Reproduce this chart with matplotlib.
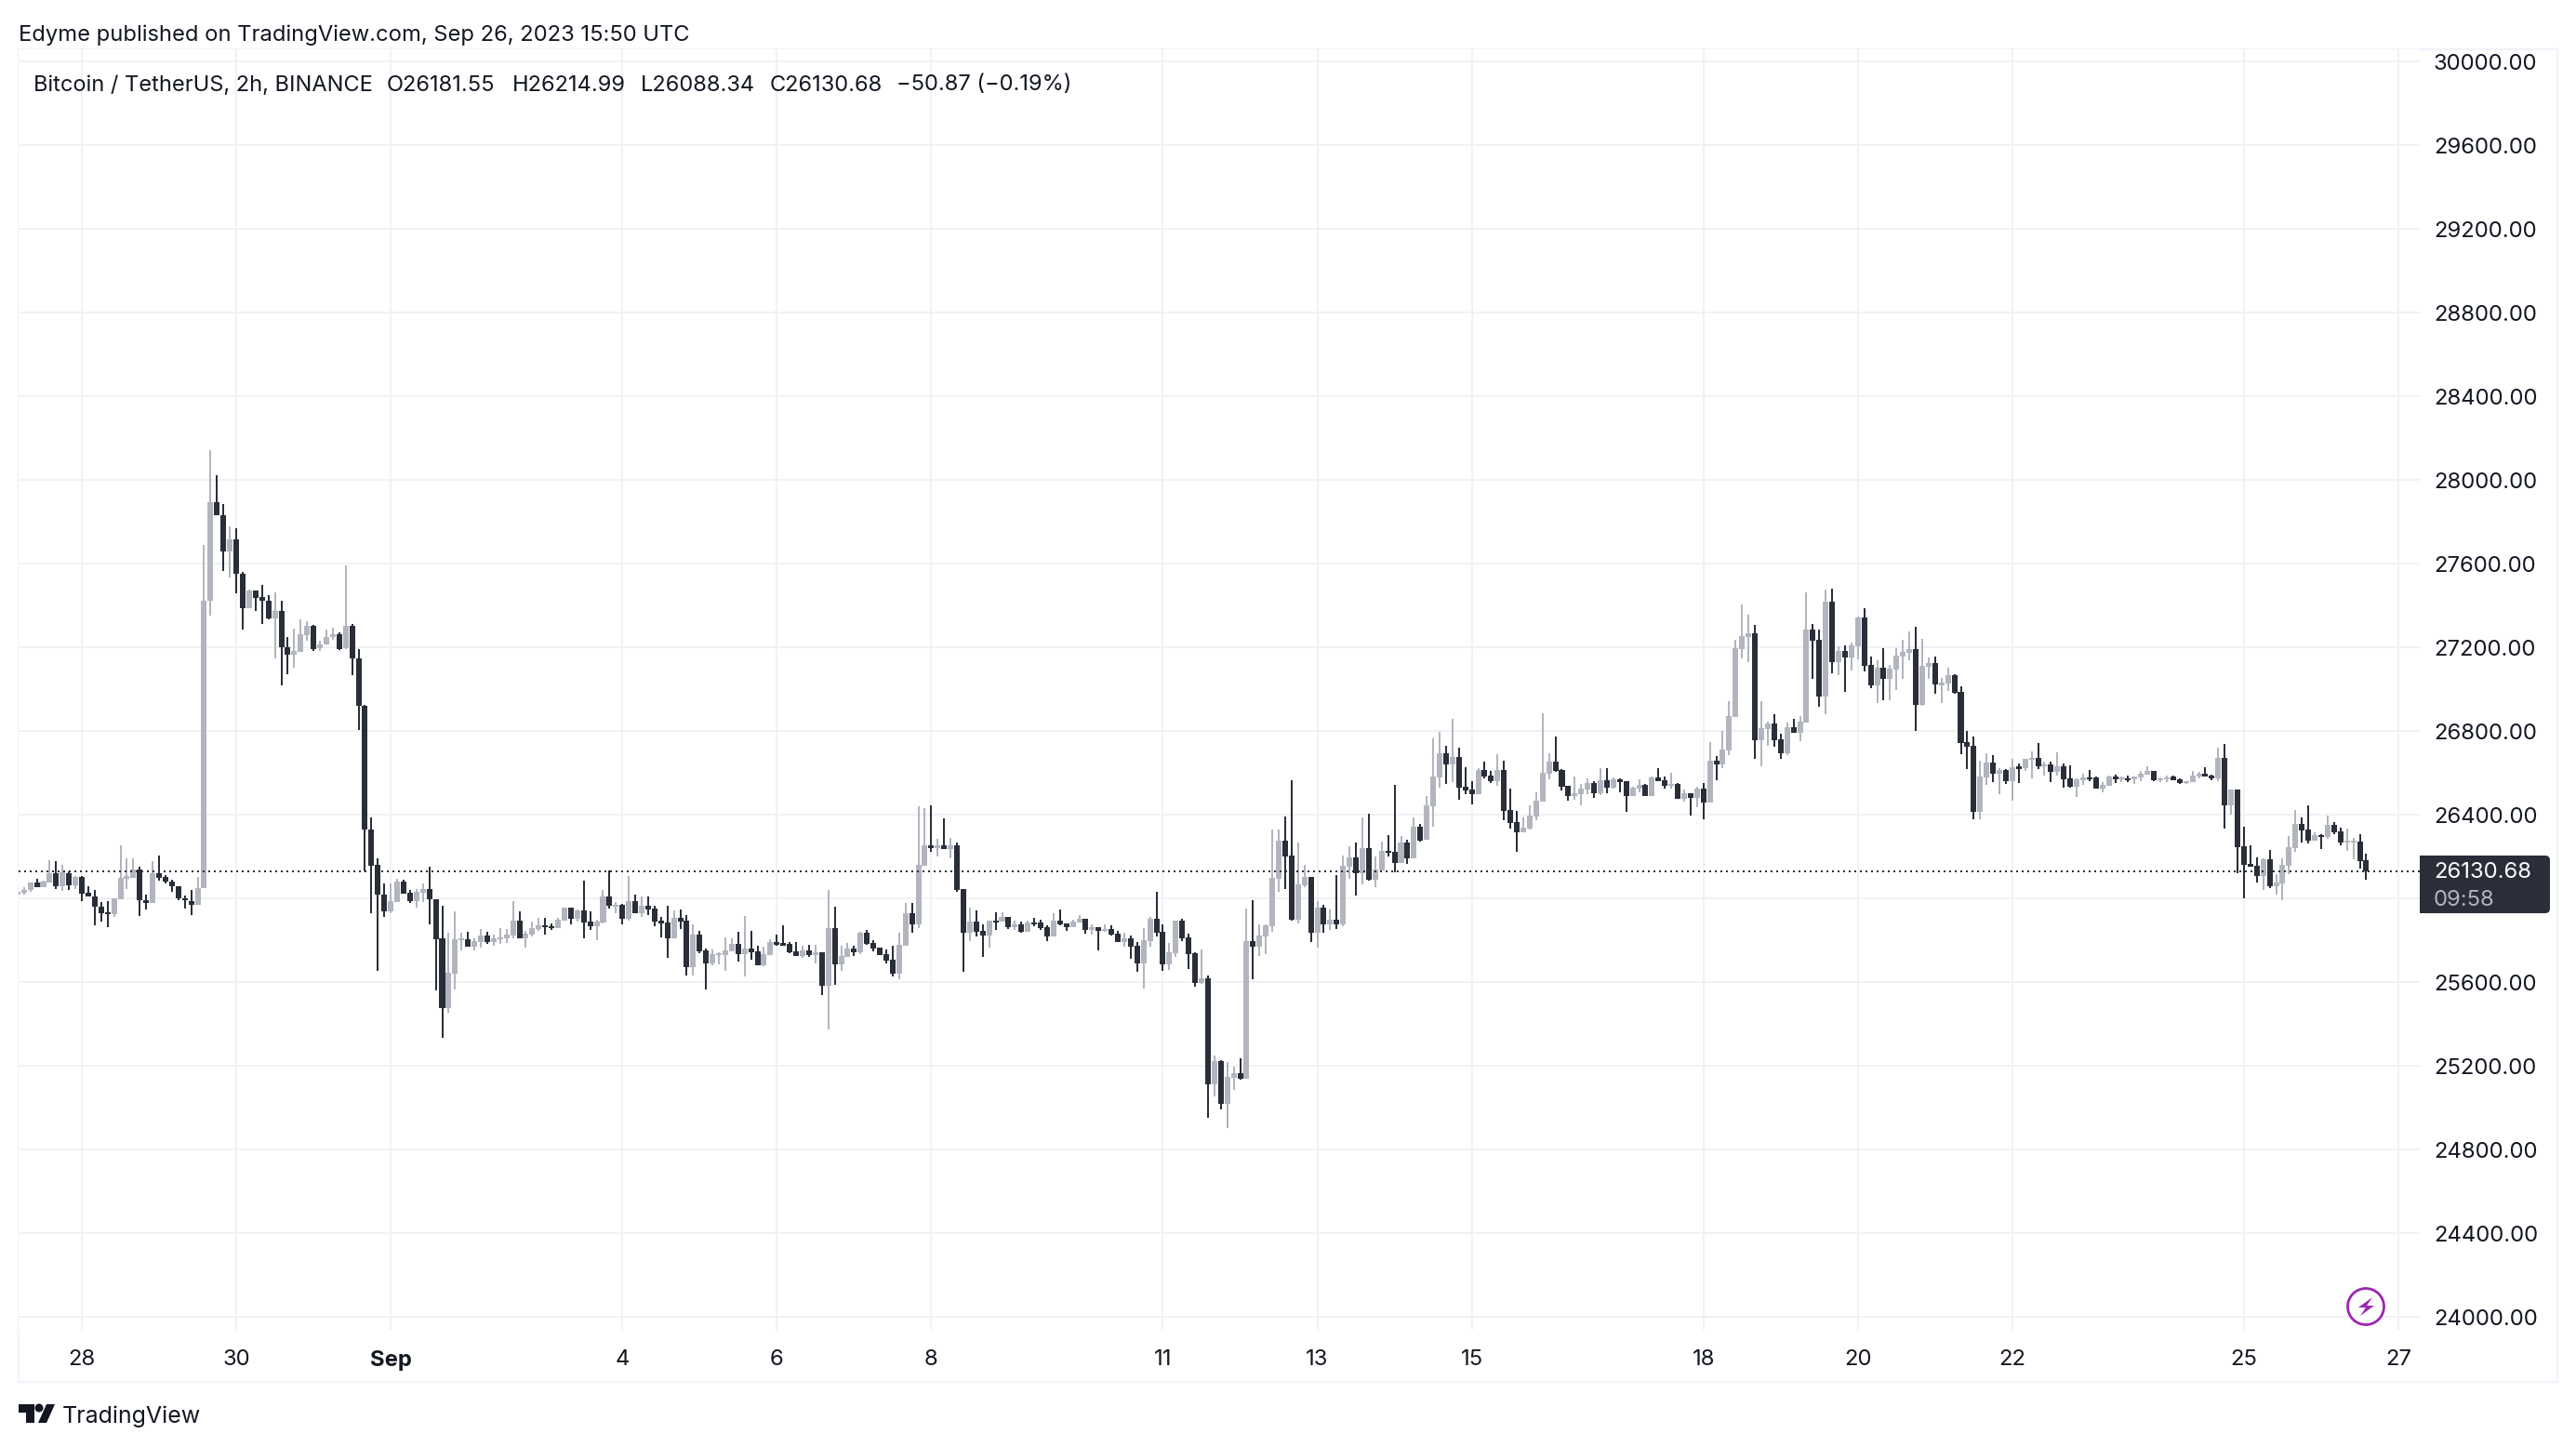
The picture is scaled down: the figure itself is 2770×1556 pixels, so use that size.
import numpy as np
import matplotlib
matplotlib.use("Agg")
import matplotlib.pyplot as plt
from matplotlib.patches import Circle, Polygon, Rectangle, FancyBboxPatch

plt.rcParams['font.family'] = ['Inter', 'DejaVu Sans']

first_bar = -10  # bars counted from Aug 28 00:00, 2h each

opens = [
26020,26025,26038,26075,26055,26075,26118,26056,26122,26062,
26102,26025,26011,25962,25931,25925,25995,26098,26096,26140,
25993,25978,26118,26104,26082,26060,26002,25987,25969,26049,
27424,27895,27829,27660,27716,27553,27387,27469,27438,27424,
27336,27375,27202,27164,27178,27256,27302,27195,27215,27249,
27262,27195,27304,27147,26922,26329,26158,26020,25936,25984,
26078,26025,25985,26027,26045,25996,25807,25476,25641,25802,
25804,25769,25791,25822,25791,25804,25809,25822,25893,25809,
25827,25853,25871,25868,25858,25893,25956,25902,25942,25889,
25867,25884,26009,25965,25969,25902,25987,25929,25964,25951,
25893,25884,25809,25907,25893,25671,25827,25751,25689,25733,
25729,25747,25782,25733,25760,25747,25680,25729,25791,25782,
25782,25747,25724,25751,25729,25742,25582,25858,25684,25720,
25760,25742,25836,25787,25764,25733,25707,25640,25773,25929,
25876,26156,26253,26240,26253,26236,26253,26044,25836,25889,
25844,25822,25893,25889,25911,25862,25876,25840,25884,25884,
25862,25818,25893,25880,25862,25884,25902,25849,25862,25844,
25853,25831,25791,25809,25773,25689,25796,25902,25840,25684,
25738,25893,25813,25738,25596,25616,25110,25221,25016,25141,
25163,25136,25794,25767,25818,25867,26093,26276,26204,25898,
26062,26102,25836,25956,25876,25898,25876,26151,26196,26120,
26240,26089,26133,26227,26222,26169,26267,26191,26342,26280,
26440,26578,26693,26640,26676,26533,26520,26498,26613,26587,
26560,26613,26422,26364,26316,26333,26391,26462,26596,26653,
26613,26538,26489,26498,26520,26551,26502,26564,26529,26569,
26560,26489,26524,26542,26489,26578,26564,26538,26547,26476,
26502,26480,26524,26458,26658,26640,26707,26867,27191,27249,
27267,26756,26809,26836,26760,26693,26818,26791,26840,27284,
27236,26964,27418,27129,27182,27151,27204,27342,27116,27018,
27102,27049,27093,27156,27173,27191,26924,27107,27124,27022,
27027,27067,26987,26747,26729,26413,26578,26649,26596,26613,
26560,26627,26622,26662,26671,26633,26640,26604,26631,26573,
26533,26564,26578,26578,26524,26538,26582,26571,26573,26569,
26578,26591,26609,26564,26569,26582,26569,26551,26556,26582,
26596,26587,26573,26671,26444,26520,26249,26164,26156,26107,
26187,26058,26071,26156,26240,26356,26329,26276,26302,26293,
26351,26320,26268,26269,26271,26181.55]

closes = [
26030,26040,26075,26055,26080,26118,26056,26125,26062,26102,
26024,26011,25960,25929,25925,25998,26098,26102,26140,25991,
25978,26118,26098,26080,26058,25998,25989,25969,26051,27424,
27895,27829,27660,27716,27553,27387,27471,27435,27424,27336,
27375,27200,27164,27182,27262,27302,27193,27215,27251,27262,
27193,27304,27147,26920,26327,26156,26018,25936,25985,26078,
26024,25985,26029,26045,25996,25805,25476,25644,25804,25806,
25769,25796,25822,25791,25809,25813,25827,25893,25809,25831,
25858,25871,25864,25858,25898,25956,25902,25942,25884,25867,
25889,26009,25964,25968,25902,25987,25929,25964,25947,25889,
25880,25809,25907,25889,25671,25827,25745,25689,25733,25736,
25751,25782,25733,25760,25742,25680,25733,25791,25778,25778,
25742,25724,25751,25729,25742,25582,25858,25684,25724,25760,
25742,25836,25782,25760,25729,25702,25640,25778,25929,25876,
26160,26253,26240,26253,26236,26252,26039,25836,25889,25840,
25822,25893,25889,25911,25862,25876,25840,25884,25879,25858,
25818,25893,25876,25862,25889,25902,25849,25862,25844,25853,
25827,25791,25809,25769,25689,25800,25902,25836,25684,25742,
25893,25809,25733,25596,25618,25110,25221,25016,25145,25163,
25136,25794,25767,25821,25871,26098,26276,26200,25896,26067,
26102,25836,25956,25876,25898,25876,26156,26196,26120,26240,
26089,26138,26227,26219,26169,26267,26191,26342,26276,26444,
26582,26693,26640,26676,26529,26516,26498,26613,26582,26560,
26613,26418,26360,26316,26338,26396,26467,26600,26653,26609,
26533,26489,26502,26524,26551,26502,26564,26529,26569,26556,
26489,26529,26542,26489,26578,26560,26538,26547,26476,26502,
26480,26524,26458,26658,26640,26711,26871,27196,27253,27267,
26756,26813,26836,26756,26693,26818,26791,26844,27284,27231,
26964,27418,27129,27182,27151,27209,27342,27111,27018,27102,
27049,27098,27160,27178,27191,26924,27111,27124,27022,27027,
27067,26982,26742,26724,26413,26582,26649,26596,26613,26560,
26627,26622,26667,26671,26631,26640,26604,26631,26569,26533,
26569,26578,26573,26524,26542,26582,26569,26575,26569,26582,
26596,26609,26564,26573,26578,26564,26551,26558,26587,26596,
26582,26573,26671,26444,26520,26244,26160,26151,26107,26187,
26058,26076,26160,26244,26356,26324,26276,26302,26296,26351,
26316,26267,26271,26272,26178,26130.68]

highs = [
26035,26055,26075,26093,26085,26182,26176,26162,26131,26105,
26105,26056,26038,25984,25985,26002,26253,26189,26191,26153,
26020,26176,26204,26111,26089,26060,26013,26042,26102,27691,
28142,28022,27884,27780,27767,27562,27475,27469,27500,27447,
27464,27424,27251,27287,27335,27325,27306,27233,27285,27295,
27273,27591,27313,27193,26925,26385,26193,26069,26071,26095,
26089,26038,26045,26071,26153,25996,25964,25836,25938,25836,
25840,25809,25853,25840,25827,25858,25853,25987,25938,25844,
25889,25907,25907,25880,25907,25956,25956,25947,26084,25938,
25898,26040,26133,25982,25973,26107,26018,26009,26009,25964,
25911,25964,25942,25947,25920,25876,25844,25760,25756,25742,
25813,25809,25840,25916,25844,25773,25769,25804,25827,25871,
25791,25791,25773,25778,25778,25742,26040,25960,25773,25787,
25773,25840,25849,25800,25764,25756,25773,25836,25978,25978,
26440,26431,26444,26284,26382,26289,26267,26044,25956,25942,
25876,25893,25933,25933,25911,25893,25889,25893,25907,25898,
25871,25929,25947,25880,25898,25920,25902,25876,25862,25876,
25871,25844,25836,25822,25791,25858,25911,26031,25876,25787,
25893,25902,25831,25742,25756,25633,25247,25225,25216,25194,
25234,25950,25990,25874,25876,26329,26329,26391,26564,26267,
26160,26102,25987,25969,25947,26111,26204,26249,26267,26387,
26404,26200,26271,26302,26542,26298,26280,26387,26356,26489,
26764,26796,26729,26858,26720,26627,26560,26622,26653,26609,
26689,26658,26524,26418,26387,26444,26507,26884,26693,26773,
26618,26538,26582,26547,26573,26560,26622,26622,26578,26573,
26560,26533,26569,26547,26582,26622,26582,26600,26551,26520,
26502,26533,26551,26747,26680,26800,26942,27236,27404,27356,
27307,26942,26844,26880,26787,26840,26858,26871,27462,27311,
27284,27476,27480,27204,27209,27222,27347,27387,27156,27138,
27196,27116,27196,27236,27276,27298,27240,27151,27156,27053,
27102,27071,27013,26800,26773,26658,26693,26684,26622,26618,
26667,26644,26667,26702,26742,26653,26653,26698,26644,26636,
26573,26596,26613,26582,26556,26587,26591,26582,26587,26582,
26609,26631,26609,26578,26587,26587,26573,26560,26609,26604,
26627,26591,26720,26738,26520,26520,26342,26253,26196,26191,
26231,26116,26191,26298,26422,26387,26444,26316,26307,26396,
26364,26338,26333,26289,26307,26214.99]

lows = [
26015,26020,26030,26055,26055,26075,26045,26036,26040,26045,
25987,26010,25871,25889,25862,25911,25995,26045,26096,25916,
25947,25978,26085,26069,26031,25991,25951,25920,25969,26049,
27353,27829,27565,27535,27458,27285,27387,27373,27313,27333,
27147,27018,27071,27102,27178,27233,27182,27182,27215,27236,
27185,27193,27067,26803,26131,25929,25653,25911,25929,25984,
26024,25978,25955,25984,25876,25562,25335,25453,25564,25751,
25769,25751,25764,25782,25773,25782,25787,25809,25809,25764,
25818,25844,25827,25849,25858,25893,25876,25889,25809,25849,
25800,25880,25951,25929,25876,25893,25929,25911,25920,25867,
25813,25716,25809,25853,25631,25631,25738,25564,25680,25684,
25653,25747,25698,25627,25707,25680,25676,25729,25773,25778,
25738,25724,25716,25720,25689,25538,25373,25587,25653,25720,
25724,25733,25778,25747,25729,25689,25627,25613,25773,25836,
25858,26156,26222,26200,26236,26191,26033,25649,25796,25818,
25720,25764,25849,25889,25853,25849,25836,25840,25867,25849,
25796,25818,25871,25844,25862,25884,25831,25827,25751,25840,
25822,25791,25769,25711,25649,25569,25769,25818,25653,25658,
25720,25796,25662,25578,25591,24950,25052,24990,24901,25083,
25132,25136,25612,25723,25733,25840,26031,26044,25893,25880,
26053,25791,25764,25836,25849,25853,25867,26093,26013,26067,
26084,26053,26133,26200,26124,26169,26164,26191,26271,26280,
26342,26529,26547,26556,26471,26498,26449,26498,26573,26551,
26538,26373,26333,26222,26316,26329,26373,26462,26569,26604,
26516,26467,26471,26444,26498,26480,26493,26502,26524,26507,
26413,26489,26507,26489,26489,26560,26524,26524,26476,26462,
26396,26436,26378,26458,26564,26622,26684,26867,27147,27129,
26667,26631,26729,26724,26667,26684,26791,26751,26840,27049,
26916,26880,27076,27067,26987,27089,27142,27084,27004,26933,
26947,26947,26996,27049,27138,26800,26920,27049,26978,26933,
26991,26978,26689,26618,26378,26378,26542,26556,26498,26547,
26467,26551,26609,26573,26618,26587,26556,26587,26529,26529,
26484,26542,26560,26524,26507,26538,26551,26556,26556,26547,
26560,26591,26560,26556,26556,26564,26547,26547,26556,26573,
26582,26564,26560,26333,26400,26120,26000,26151,26076,26040,
26049,26018,25991,26116,26222,26267,26262,26276,26236,26284,
26307,26253,26227,26187,26142,26088.34]

date_bars = [0, 24, 48, 84, 108, 132, 168, 192, 216, 252, 276, 300, 336, 360]
date_labels = ['28', '30', 'Sep', '4', '6', '8', '11', '13', '15', '18', '20', '22', '25', '27']
price_ticks = [24000, 24400, 24800, 25200, 25600, 26000, 26400, 26800, 27200,
               27600, 28000, 28400, 28800, 29200, 29600, 30000]
last_price = 26130.68

UP = '#b2b5be'
DOWN = '#2a2e39'
GRID = '#f1f1f5'
FRAME = '#f0f3fa'
TEXT = '#131722'

W, H = 2770, 1556
fig = plt.figure(figsize=(W / 100, H / 100), dpi=100, facecolor='white')

def fx(x): return x / W
def fy(y): return 1 - y / H

px_left, px_right, px_top, px_bottom = 20, 2602, 53, 1430
ax = fig.add_axes([fx(px_left), fy(px_bottom), (px_right - px_left) / W, (px_bottom - px_top) / H])
ax.set_xlim(-9.83, 363.32)
ax.set_ylim(23937.8, 30057.8)
ax.set_facecolor('white')
for s in ax.spines.values():
    s.set_visible(False)
ax.set_xticks(date_bars)
ax.set_yticks(price_ticks)
ax.tick_params(length=0, labelbottom=False, labelleft=False)
ax.set_axisbelow(True)
ax.grid(True, color=GRID, linewidth=1.44)

o = np.array(opens); c = np.array(closes); hi = np.array(highs); lo = np.array(lows)
bars = np.arange(first_bar, first_bar + len(o))
up = c >= o
min_body = 9
body = np.maximum(np.abs(c - o), min_body)
base = (o + c) / 2 - body / 2
for mask, col in ((up, UP), (~up, DOWN)):
    lc = ax.vlines(bars[mask], lo[mask], hi[mask], colors=col, linewidth=1.44, zorder=3)
    lc.set_capstyle('butt')
    ax.bar(bars[mask], body[mask], bottom=base[mask], width=0.87, color=col, linewidth=0, zorder=4)

ax.axhline(last_price, color=DOWN, linewidth=1.44, linestyle=(0, (1, 2)), zorder=5)

# frame
fig.add_artist(Rectangle((fx(20), fy(1486)), (2750 - 20) / W, (1486 - 53) / H, transform=fig.transFigure,
                         fill=False, edgecolor=FRAME, linewidth=1.6, zorder=0))

# axis labels
FS = 17.2
for p in price_ticks:
    y = ax.transData.transform((0, p))[1]
    fig.text(fx(2617), y / H, f'{p:.2f}', fontsize=FS, color=TEXT, ha='left', va='center_baseline')
for b, l in zip(date_bars, date_labels):
    x = ax.transData.transform((b, 0))[0]
    bold = l == 'Sep'
    fig.text(x / W, fy(1460), l, fontsize=FS, color=TEXT, ha='center', va='center_baseline',
             fontweight='bold' if bold else 'normal')

# last price tag
fig.add_artist(FancyBboxPatch((2602, H - 982), 140, 62, transform=None,
                              boxstyle='round,pad=0,rounding_size=5', facecolor=DOWN, edgecolor='none', zorder=6))
fig.add_artist(Rectangle((2602, H - 982), 20, 62, transform=None, facecolor=DOWN, edgecolor='none', zorder=6))
fig.text(fx(2617), fy(936), f'{last_price:.2f}', fontsize=FS, color='white', ha='left', va='center_baseline', zorder=7)
fig.text(fx(2617), fy(966), '09:58', fontsize=FS, color='#b2b5be', ha='left', va='center_baseline', zorder=7)

# header
fig.text(fx(20), fy(35), 'Edyme published on TradingView.com, Sep 26, 2023 15:50 UTC',
         fontsize=17.08, color=TEXT, ha='left', va='center_baseline')
legend_items = [('Bitcoin / TetherUS, 2h, BINANCE', 36), ('O26181.55', 416), ('H26214.99', 551),
                ('L26088.34', 689), ('C26130.68', 828), ('\u221250.87 (\u22120.19%)', 964)]
for t, x in legend_items:
    fig.text(fx(x), fy(89), t, fontsize=17.0, color=TEXT, ha='left', va='center_baseline')

# TradingView mark
logo = '#131722'
fig.add_artist(Polygon([(fx(20), fy(1510)), (fx(37), fy(1510)), (fx(37), fy(1530)), (fx(28), fy(1530)),
                        (fx(28), fy(1519)), (fx(20), fy(1519))], transform=fig.transFigure, facecolor=logo, edgecolor='none'))
fig.add_artist(Polygon([(fx(50), fy(1510)), (fx(59), fy(1510)), (fx(50), fy(1530)), (fx(41), fy(1530))],
                       transform=fig.transFigure, facecolor=logo, edgecolor='none'))
fig.add_artist(Circle((42, H - 1514), 4.5, transform=None, facecolor=logo, edgecolor='none'))
fig.text(fx(67), fy(1521), 'TradingView', fontsize=18.0, color=TEXT, ha='left', va='center_baseline')

# lightning badge
PURPLE = '#9c27b0'
fig.add_artist(Circle((2544, H - 1405), 19.5, transform=None, facecolor='white', edgecolor=PURPLE, linewidth=2.0, zorder=8))
bolt = [(2551, 1395), (2536, 1406), (2544, 1406), (2538, 1415), (2553, 1404), (2545, 1404)]
fig.add_artist(Polygon([(fx(x), fy(y)) for x, y in bolt], transform=fig.transFigure,
                       facecolor=PURPLE, edgecolor='none', zorder=9))

fig.savefig('out.png', dpi=100, facecolor='white')
